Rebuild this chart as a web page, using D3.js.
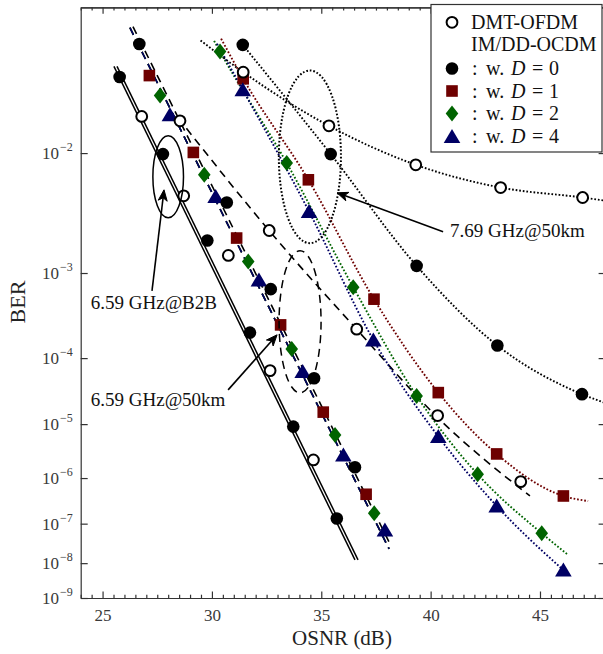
<!DOCTYPE html>
<html>
<head>
<meta charset="utf-8">
<script src="https://cdn.jsdelivr.net/npm/d3@7"></script>
<style>
  body { margin: 0; background: #fff; }
  svg { display: block; font-family: 'Liberation Serif', 'Times New Roman', serif; }
</style>
</head>
<body>
<svg id="chart" width="603" height="654"></svg>
<script>
// measured points, [OSNR dB, BER]
const b2bOfdm = [[26.79, 1.71e-2], [28.71, 4.89e-3], [30.75, 1.49e-3], [32.66, 6.72e-5], [34.64, 2.27e-6]];
const b2bD0 = [[25.78, 2.84e-2], [27.76, 9.84e-3], [29.79, 2.05e-3], [31.74, 2.14e-4], [33.72, 9.07e-6], [35.71, 1.32e-7]];
const km50Ofdm = [[28.54, 1.61e-2], [32.62, 2.52e-3], [36.62, 2.36e-4], [40.32, 1.39e-5], [44.12, 8.45e-7]];
const km50D0 = [[26.68, 4.14e-2], [30.68, 4.33e-3], [32.69, 6.79e-4], [34.67, 5.23e-5], [36.54, 1.64e-6]];
const km50D1 = [[27.14, 2.89e-2], [29.15, 1.01e-2], [31.13, 2.16e-3], [33.14, 2.66e-4], [35.09, 1.58e-5], [37.05, 4.59e-7]];
const km50D2 = [[27.63, 2.26e-2], [29.65, 7.04e-3], [31.66, 1.30e-3], [33.65, 1.32e-4], [35.63, 6.52e-6], [37.42, 1.74e-7]];
const km50D4 = [[28.08, 1.75e-2], [30.17, 4.83e-3], [32.15, 8.50e-4], [34.15, 6.51e-5], [36.01, 2.83e-6], [37.91, 7.05e-8]];
const w769Ofdm = [[31.43, 3.01e-2], [35.35, 1.50e-2], [39.32, 8.30e-3], [43.20, 5.66e-3], [46.95, 4.74e-3]];
const w769D0 = [[31.41, 4.10e-2], [35.43, 9.84e-3], [39.36, 1.18e-3], [43.05, 1.47e-4], [46.92, 3.03e-5]];
const w769D1 = [[31.43, 2.78e-2], [34.41, 6.47e-3], [37.41, 5.28e-4], [40.35, 3.20e-5], [43.02, 2.95e-6], [46.07, 4.22e-7]];
const w769D2 = [[30.37, 3.81e-2], [33.42, 8.54e-3], [36.46, 7.13e-4], [39.36, 2.85e-5], [42.15, 1.19e-6], [45.08, 5.86e-8]];
const w769D4 = [[31.41, 2.43e-2], [34.44, 3.66e-3], [37.38, 1.73e-4], [40.35, 6.13e-6], [43.02, 2.55e-7], [46.07, 6.46e-9]];

// fitted curves
const fitB2bD0 = [[25.52, 3.22e-2], [36.54, 1.22e-8]];
const fitB2bOfdm = [[25.66, 3.22e-2], [36.68, 1.22e-8]];
const fit50D0 = [[26.39, 4.96e-2], [38.19, 2.83e-8]];
const fit50Dx = [[26.25, 4.91e-2], [38.10, 2.37e-8]];
const fit50Ofdm = [[28.45, 1.68e-2], [32.66, 2.46e-3], [36.68, 2.25e-4], [40.43, 1.18e-5], [44.54, 4.22e-7]];
const fit769Ofdm = [[29.48, 4.30e-2], [31.43, 3.01e-2], [35.35, 1.50e-2], [39.32, 8.30e-3], [43.20, 5.66e-3], [46.95, 4.74e-3], [48, 4.47e-3]];
const fit769D0 = [[31.41, 4.10e-2], [35.43, 9.84e-3], [39.36, 1.18e-3], [43.05, 1.47e-4], [46.92, 3.03e-5], [48, 2.2e-5]];
const fit769D1 = [[30.42, 4.38e-2], [31.43, 2.78e-2], [34.41, 6.47e-3], [37.41, 5.28e-4], [40.35, 3.20e-5], [43.02, 2.95e-6], [46.07, 4.22e-7], [47.20, 3.28e-7]];
const fit769D2 = [[30.10, 4.28e-2], [30.37, 3.81e-2], [33.42, 8.54e-3], [36.46, 7.13e-4], [39.36, 2.85e-5], [42.15, 1.19e-6], [45.08, 5.86e-8], [46.24, 1.75e-8]];
const fit769D4 = [[30.23, 4.15e-2], [31.41, 2.43e-2], [34.44, 3.66e-3], [37.38, 1.73e-4], [40.35, 6.13e-6], [43.02, 2.55e-7], [46.07, 6.46e-9]];

const xMajor = [25, 30, 35, 40, 45];
const yTickExp = [2, 3, 4, 5, 6, 7, 8, 9];

const maroon = '#6e0000';
const green = '#006400';
const navy = '#000064';

const svg = d3.select('#chart');
const pl = 80.7, pr = 605.6, pt = 7.3, pb = 598;

const x = d3.scaleLinear().domain([24, 48]).range([pl, pr]);
// BER axis is linear in log10(-log10(BER))
const tf = (b) => Math.log10(-Math.log10(b));
const yLin = d3.scaleLinear().domain([tf(0.06), tf(1e-9)]).range([pt, pb]);
const y = (b) => yLin(tf(b));

svg.append('defs').append('clipPath').attr('id', 'plotclip')
  .append('rect').attr('x', pl).attr('y', pt).attr('width', pr - pl).attr('height', pb - pt);

// axes
const axisColor = '#333';
const minor = d3.range(24, 48.01, 0.5).filter((v) => v % 5 !== 0);

const styleAxis = (g) => {
  g.selectAll('path, line').attr('stroke', axisColor).attr('stroke-width', 1.2);
  g.selectAll('text').attr('fill', '#3a3a3a').attr('font-family', "'Liberation Serif', serif").attr('font-size', 17);
};

svg.append('g').attr('transform', `translate(0,${pb})`)
  .call(d3.axisBottom(x).tickValues(xMajor).tickSize(-6.5).tickSizeOuter(0).tickPadding(11).tickFormat(d3.format('d')))
  .call(styleAxis);
svg.append('g').attr('transform', `translate(0,${pb})`)
  .call(d3.axisBottom(x).tickValues(minor).tickSize(-3.3).tickSizeOuter(0).tickFormat(''))
  .call(styleAxis);
svg.append('g').attr('transform', `translate(0,${pt})`)
  .call(d3.axisTop(x).tickValues(xMajor).tickSize(-6.5).tickSizeOuter(0).tickFormat(''))
  .call(styleAxis);
svg.append('g').attr('transform', `translate(0,${pt})`)
  .call(d3.axisTop(x).tickValues(minor).tickSize(-3.3).tickSizeOuter(0).tickFormat(''))
  .call(styleAxis);

const yTicks = yTickExp.map((e) => tf(Math.pow(10, -e)));
const yAxisL = svg.append('g').attr('transform', `translate(${pl},0)`)
  .call(d3.axisLeft(yLin).tickValues(yTicks).tickSize(-7).tickSizeOuter(0).tickPadding(8))
  .call(styleAxis);
yAxisL.selectAll('.tick text').each(function (d, i) {
  const t = d3.select(this);
  t.text(null);
  t.append('tspan').text('10');
  t.append('tspan').attr('dy', -8).attr('dx', 1).attr('font-size', 12).text('\u2212' + yTickExp[i]);
});
svg.append('g').attr('transform', `translate(${pr},0)`)
  .call(d3.axisRight(yLin).tickValues(yTicks).tickSize(-7).tickSizeOuter(0).tickFormat(''))
  .call(styleAxis);

svg.append('text').attr('x', 342).attr('y', 645).attr('text-anchor', 'middle')
  .attr('font-size', 21).attr('fill', '#222').text('OSNR (dB)');
svg.append('text').attr('transform', 'translate(25,302) rotate(-90)').attr('text-anchor', 'middle')
  .attr('font-size', 22).attr('fill', '#222').text('BER');

// curves
const plot = svg.append('g').attr('clip-path', 'url(#plotclip)');
const line = d3.line().x((d) => x(d[0])).y((d) => y(d[1])).curve(d3.curveMonotoneX);
const dashed = '8,5.5';
const dotted = '1.7,1.9';

const curves = [
  [fitB2bD0, 'black', null, 1.5],
  [fitB2bOfdm, 'black', null, 1.5],
  [fit50Dx, maroon, dashed, 1.6],
  [fit50Dx, green, dashed, 1.6],
  [fit50Dx, navy, dashed, 1.6],
  [fit50D0, 'black', dashed, 1.6],
  [fit50Ofdm, 'black', dashed, 1.6],
  [fit769D1, maroon, dotted, 1.9],
  [fit769D2, green, dotted, 1.9],
  [fit769D4, navy, dotted, 1.9],
  [fit769D0, 'black', dotted, 1.9],
  [fit769Ofdm, 'black', dotted, 1.9],
];
curves.forEach(([data, color, dash, w]) => {
  plot.append('path').datum(data).attr('d', line)
    .attr('fill', 'none').attr('stroke', color).attr('stroke-width', w)
    .attr('stroke-dasharray', dash);
});

// markers
const drawMarker = (g, type, cx, cy) => {
  if (type === 'filled') {
    g.append('circle').attr('cx', cx).attr('cy', cy).attr('r', 6.3).attr('fill', 'black');
  } else if (type === 'open') {
    g.append('circle').attr('cx', cx).attr('cy', cy).attr('r', 5.4)
      .attr('fill', 'white').attr('stroke', 'black').attr('stroke-width', 2);
  } else if (type === 'square') {
    g.append('rect').attr('x', cx - 5.8).attr('y', cy - 5.8).attr('width', 11.6).attr('height', 11.6)
      .attr('fill', maroon);
  } else if (type === 'diamond') {
    g.append('path').attr('d', `M${cx},${cy - 8}L${cx + 6.3},${cy}L${cx},${cy + 8}L${cx - 6.3},${cy}Z`)
      .attr('fill', green);
  } else if (type === 'triangle') {
    g.append('path').attr('d', `M${cx},${cy - 7.5}L${cx + 8.3},${cy + 6.5}L${cx - 8.3},${cy + 6.5}Z`)
      .attr('fill', navy);
  }
};

const markerSets = [
  [km50D1, 'square'], [km50D2, 'diamond'], [km50D4, 'triangle'], [km50D0, 'filled'], [km50Ofdm, 'open'],
  [b2bD0, 'filled'], [b2bOfdm, 'open'],
  [w769D1, 'square'], [w769D2, 'diamond'], [w769D4, 'triangle'], [w769D0, 'filled'], [w769Ofdm, 'open'],
];
const mg = svg.append('g');
markerSets.forEach(([data, type]) => {
  data.forEach((d) => drawMarker(mg, type, x(d[0]), y(d[1])));
});

// annotations
const ann = svg.append('g');
const ellipse = (osnr, halfDb, berTop, berBottom, dash, w) => {
  const y0 = y(berTop), y1 = y(berBottom);
  ann.append('ellipse').attr('cx', x(osnr)).attr('cy', (y0 + y1) / 2)
    .attr('rx', x(osnr + halfDb) - x(osnr)).attr('ry', (y1 - y0) / 2)
    .attr('fill', 'none').attr('stroke', 'black').attr('stroke-width', w)
    .attr('stroke-dasharray', dash);
};
ellipse(28.0, 0.70, 1.30e-2, 3.24e-3, null, 1.5);
ellipse(34.03, 0.96, 1.65e-3, 3.17e-5, '8,5.5', 1.5);
ellipse(34.48, 1.42, 3.07e-2, 1.94e-3, '1.7,1.9', 2);

const arrow = (from, to) => {
  const x0 = x(from[0]), y0 = y(from[1]), x1 = x(to[0]), y1 = y(to[1]);
  const a = Math.atan2(y1 - y0, x1 - x0);
  const hl = 11, hw = 4.5;
  const bx = x1 - hl * Math.cos(a), by = y1 - hl * Math.sin(a);
  ann.append('line').attr('x1', x0).attr('y1', y0).attr('x2', x1 - 3 * Math.cos(a)).attr('y2', y1 - 3 * Math.sin(a))
    .attr('stroke', 'black').attr('stroke-width', 1.6);
  ann.append('path')
    .attr('d', `M${bx - hw * Math.sin(a)},${by + hw * Math.cos(a)}L${x1},${y1}L${bx + hw * Math.sin(a)},${by - hw * Math.cos(a)}L${x1 - 8 * Math.cos(a)},${y1 - 8 * Math.sin(a)}Z`)
    .attr('fill', 'black').attr('stroke', 'black').attr('stroke-width', 1).attr('stroke-linejoin', 'miter');
};
arrow([27.26, 6.51e-4], [27.81, 5.44e-3]);
arrow([30.74, 3.52e-5], [32.98, 2.01e-4]);
arrow([40.57, 2.46e-3], [35.72, 5.16e-3]);

const label = (osnr, ber, txt) => {
  ann.append('text').attr('x', x(osnr)).attr('y', y(ber)).attr('dy', '0.33em')
    .attr('font-size', 19).attr('fill', '#111').text(txt);
};
label(24.46, 4.80e-4, '6.59 GHz@B2B');
label(24.46, 2.47e-5, '6.59 GHz@50km');
label(40.89, 2.52e-3, '7.69 GHz@50km');

// legend
const lg = svg.append('g');
lg.append('rect').attr('x', 431).attr('y', 4.5).attr('width', 171).attr('height', 147.5)
  .attr('fill', 'white').attr('stroke', axisColor).attr('stroke-width', 1.2);
const rows = [22.3, 44.8, 68.5, 91, 113.5, 136.5];
drawMarker(lg, 'open', 452, rows[0]);
lg.append('text').attr('x', 471).attr('y', rows[0] + 6.6).attr('font-size', 20).attr('fill', '#111').text('DMT-OFDM');
lg.append('text').attr('x', 471).attr('y', rows[1] + 6.6).attr('font-size', 20).attr('fill', '#111').text('IM/DD-OCDM');
const legendD = [['filled', '0'], ['square', '1'], ['diamond', '2'], ['triangle', '4']];
legendD.forEach(([type, dv], i) => {
  const ry = rows[i + 2];
  drawMarker(lg, type, 452, ry);
  const t = lg.append('text').attr('y', ry + 6.6).attr('font-size', 20).attr('fill', '#111');
  t.append('tspan').attr('x', 472).text(':');
  t.append('tspan').attr('x', 486).text('w.');
  t.append('tspan').attr('x', 511).attr('font-style', 'italic').text('D');
  t.append('tspan').attr('x', 532).text('=');
  t.append('tspan').attr('x', 549).text(dv);
});
</script>
</body>
</html>
